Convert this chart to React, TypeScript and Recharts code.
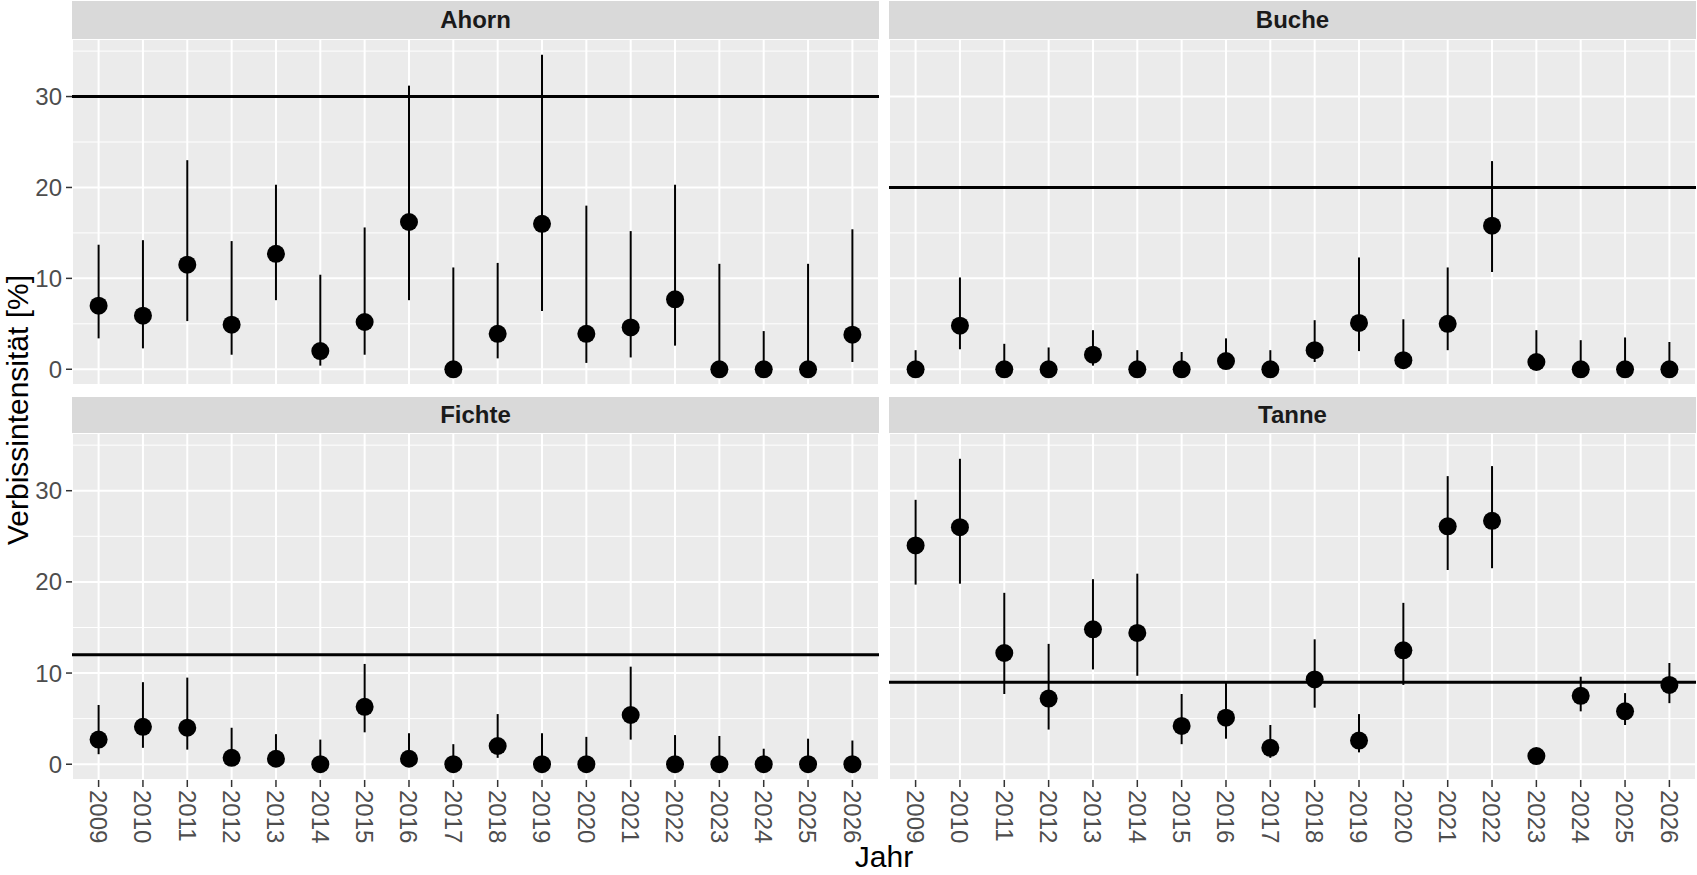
import React from "react";
import {
  ScatterChart,
  Scatter,
  XAxis,
  YAxis,
  CartesianGrid,
  ErrorBar,
  ReferenceLine,
} from "recharts";

const years = [2009, 2010, 2011, 2012, 2013, 2014, 2015, 2016, 2017, 2018, 2019, 2020, 2021, 2022, 2023, 2024, 2025, 2026];
const yTicks = [0, 10, 20, 30];
const yMinor = [5, 15, 25, 35];

const ahornMean = [7.0, 5.9, 11.5, 4.9, 12.7, 2.0, 5.2, 16.2, 0, 3.9, 16.0, 3.9, 4.6, 7.7, 0, 0, 0, 3.8];
const ahornLo = [3.4, 2.3, 5.3, 1.6, 7.6, 0.4, 1.6, 7.6, 0, 1.2, 6.4, 0.7, 1.3, 2.6, 0, 0, 0, 0.8];
const ahornHi = [13.7, 14.2, 23.0, 14.1, 20.3, 10.4, 15.6, 31.2, 11.2, 11.7, 34.6, 18.0, 15.2, 20.3, 11.6, 4.2, 11.6, 15.4];

const bucheMean = [0, 4.8, 0, 0, 1.6, 0, 0, 0.9, 0, 2.1, 5.1, 1.0, 5.0, 15.8, 0.8, 0, 0, 0];
const bucheLo = [0, 2.2, 0, 0, 0.4, 0, 0, 0.2, 0, 0.8, 2.0, 0.1, 2.1, 10.7, 0.1, 0, 0, 0];
const bucheHi = [2.1, 10.1, 2.8, 2.4, 4.3, 2.1, 1.9, 3.4, 2.1, 5.4, 12.3, 5.5, 11.2, 22.9, 4.3, 3.2, 3.5, 3.0];

const fichteMean = [2.7, 4.1, 4.0, 0.7, 0.6, 0, 6.3, 0.6, 0, 2.0, 0, 0, 5.4, 0, 0, 0, 0, 0];
const fichteLo = [1.1, 1.8, 1.6, 0.1, 0.05, 0, 3.5, 0.05, 0, 0.7, 0, 0, 2.7, 0, 0, 0, 0, 0];
const fichteHi = [6.5, 9.0, 9.5, 4.0, 3.3, 2.7, 11.0, 3.4, 2.2, 5.5, 3.4, 3.0, 10.7, 3.2, 3.1, 1.7, 2.8, 2.6];

const tanneMean = [24.0, 26.0, 12.2, 7.2, 14.8, 14.4, 4.2, 5.1, 1.8, 9.3, 2.6, 12.5, 26.1, 26.7, 0.9, 7.5, 5.8, 8.7];
const tanneLo = [19.7, 19.8, 7.7, 3.8, 10.4, 9.7, 2.2, 2.8, 0.7, 6.2, 1.3, 8.7, 21.3, 21.5, 0.5, 5.8, 4.3, 6.7];
const tanneHi = [29.0, 33.5, 18.8, 13.2, 20.3, 20.9, 7.7, 9.0, 4.3, 13.7, 5.5, 17.7, 31.6, 32.7, 1.3, 9.6, 7.8, 11.1];

const species = ["Ahorn", "Buche", "Fichte", "Tanne"];
const thresholds = [30, 20, 12, 9];

const FONT = "'Liberation Sans', Arial, Helvetica, sans-serif";

function build(mean: number[], lo: number[], hi: number[]) {
  return years.map((yr, i) => ({
    year: yr,
    mean: mean[i],
    err: [Math.max(0, mean[i] - lo[i]), Math.max(0, hi[i] - mean[i])],
  }));
}

const datasets = [
  build(ahornMean, ahornLo, ahornHi),
  build(bucheMean, bucheLo, bucheHi),
  build(fichteMean, fichteLo, fichteHi),
  build(tanneMean, tanneLo, tanneHi),
];

const Dot = (props: any) => {
  const { cx, cy } = props;
  if (cx == null || cy == null) return null;
  return <circle cx={cx} cy={cy} r={9} fill="#000" />;
};

const XTick = (props: any) => {
  const { x, y, payload } = props;
  return (
    <text
      x={x}
      y={y}
      transform={`rotate(90, ${x}, ${y})`}
      textAnchor="start"
      dy="0.36em"
      fill="#4D4D4D"
      fontSize={24}
      fontFamily={FONT}
    >
      {payload.value}
    </text>
  );
};

const PLOT_W = 807;
const Y_AXIS_W = 72;
const GAP_X = 10;
const TOP_PLOT_TOP = 39;
const TOP_PLOT_H = 346;
const BOT_PLOT_TOP = 433;
const BOT_PLOT_H = 347;
const X_AXIS_H = 75;

function Panel({ idx }: { idx: number }) {
  const isLeft = idx % 2 === 0;
  const isBottom = idx >= 2;
  const plotH = isBottom ? BOT_PLOT_H : TOP_PLOT_H;
  const width = isLeft ? PLOT_W + Y_AXIS_W : PLOT_W;
  const height = plotH + (isBottom ? X_AXIS_H : 0);
  const left = isLeft ? 0 : Y_AXIS_W + PLOT_W + GAP_X;
  const top = isBottom ? BOT_PLOT_TOP : TOP_PLOT_TOP;
  return (
    <div style={{ position: "absolute", left, top, width, height }}>
      <ScatterChart width={width} height={height} margin={{ top: 0, right: 0, bottom: 0, left: 0 }}>
        <CartesianGrid
          fill="#EBEBEB"
          stroke="#FFFFFF"
          strokeWidth={1}
          vertical={false}
          horizontalValues={yMinor}
        />
        <CartesianGrid stroke="#FFFFFF" strokeWidth={2} />
        <XAxis
          type="number"
          dataKey="year"
          domain={[2008.4, 2026.6]}
          ticks={years}
          allowDataOverflow
          interval={0}
          hide={!isBottom}
          height={isBottom ? X_AXIS_H : 0}
          axisLine={false}
          tickLine={{ stroke: "#333333", strokeWidth: 1.5 }}
          tickSize={7}
          tickMargin={3}
          tick={<XTick />}
        />
        <YAxis
          type="number"
          dataKey="mean"
          domain={[-1.73, 36.33]}
          ticks={yTicks}
          allowDataOverflow
          interval={0}
          hide={!isLeft}
          width={isLeft ? Y_AXIS_W : 0}
          axisLine={false}
          tickLine={{ stroke: "#333333", strokeWidth: 1.5 }}
          tickSize={6}
          tickMargin={4}
          tick={{ fill: "#4D4D4D", fontSize: 24, fontFamily: FONT }}
        />
        <ReferenceLine y={thresholds[idx]} stroke="#000" strokeWidth={3} />
        <Scatter data={datasets[idx]} fill="#000" shape={<Dot />} isAnimationActive={false}>
          <ErrorBar dataKey="err" direction="y" width={0} stroke="#000" strokeWidth={2} isAnimationActive={false} />
        </Scatter>
      </ScatterChart>
    </div>
  );
}

function Strip({ idx }: { idx: number }) {
  const isLeft = idx % 2 === 0;
  const isBottom = idx >= 2;
  const left = isLeft ? Y_AXIS_W : Y_AXIS_W + PLOT_W + GAP_X;
  const top = isBottom ? 397 : 1;
  const h = isBottom ? 36 : 38;
  return (
    <div
      style={{
        position: "absolute",
        left,
        top,
        width: PLOT_W,
        height: h,
        background: "#D9D9D9",
        color: "#1A1A1A",
        fontFamily: FONT,
        fontWeight: "bold",
        fontSize: 24,
        lineHeight: `${h}px`,
        textAlign: "center",
      }}
    >
      {species[idx]}
    </div>
  );
}

export default function App() {
  return (
    <div
      style={{
        position: "absolute",
        left: 0,
        top: 0,
        width: 1697,
        height: 875,
        background: "#FFFFFF",
        overflow: "hidden",
      }}
    >
      {[0, 1, 2, 3].map((i) => (
        <Panel key={`p${i}`} idx={i} />
      ))}
      {[0, 1, 2, 3].map((i) => (
        <Strip key={`s${i}`} idx={i} />
      ))}
      <svg
        width={1697}
        height={875}
        style={{ position: "absolute", left: 0, top: 0, pointerEvents: "none" }}
      >
        <text
          x={28}
          y={410}
          transform="rotate(-90, 28, 410)"
          textAnchor="middle"
          fontSize={30}
          fontFamily={FONT}
          fill="#000"
        >
          Verbissintensität [%]
        </text>
        <text x={884} y={867} textAnchor="middle" fontSize={30} fontFamily={FONT} fill="#000">
          Jahr
        </text>
      </svg>
    </div>
  );
}
